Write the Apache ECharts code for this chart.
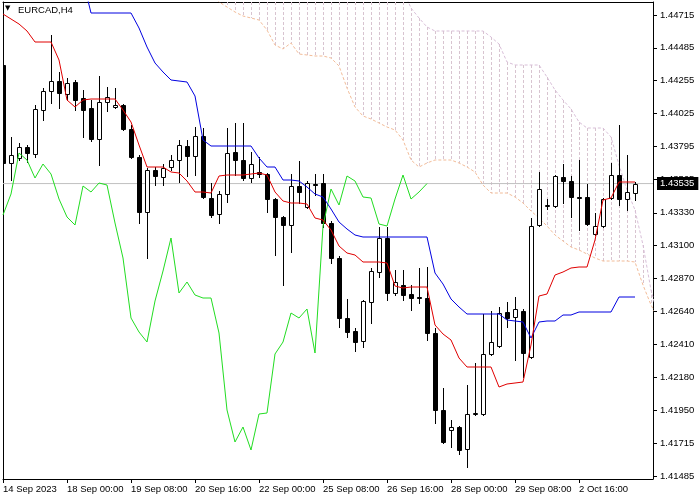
<!DOCTYPE html>
<html><head><meta charset="utf-8">
<script src="https://cdn.jsdelivr.net/npm/echarts@6/dist/echarts.min.js"></script>
<style>html,body{margin:0;padding:0;background:#fff}#c{width:700px;height:500px}</style>
</head><body><div id="c"></div>
<script>
// ---- data (EURCAD H4, bars indexed 0..79 from 14 Sep 2023 16:00) ----
const symbolTitle = 'EURCAD,H4';
const xLabelBars = [0, 8, 16, 24, 32, 40, 48, 56, 64, 72];
const xLabels = ['14 Sep 2023', '18 Sep 00:00', '19 Sep 08:00', '20 Sep 16:00', '22 Sep 00:00',
  '25 Sep 08:00', '26 Sep 16:00', '28 Sep 00:00', '29 Sep 08:00', '2 Oct 16:00'];
const yTicks = [1.44715, 1.44485, 1.44255, 1.44025, 1.43795, 1.43565, 1.43330, 1.43100,
  1.42870, 1.42640, 1.42410, 1.42180, 1.41950, 1.41715, 1.41485];
const lastPrice = 1.43535;

const opens = [1.44365,1.43679,1.43714,1.43791,1.43742,1.44050,1.44183,1.44253,1.44162,1.44246,
 1.44134,1.44064,1.43847,1.44106,1.44071,1.44085,1.43917,1.43721,1.43336,1.43630,
 1.43581,1.43651,1.43700,1.43798,1.43728,1.43868,1.43434,1.43322,1.43462,1.43756,
 1.43700,1.43574,1.43616,1.43602,1.43427,1.43301,1.43245,1.43518,1.43371,1.43532,
 1.43539,1.43259,1.43014,1.42594,1.42503,1.42433,1.42706,1.42916,1.43154,1.42769,
 1.42825,1.42762,1.42741,1.42734,1.42489,1.41950,1.41810,1.41831,1.41677,1.41922,
 1.41922,1.42342,1.42398,1.42636,1.42601,1.42643,1.42321,1.43245,1.43378,1.43378,
 1.43581,1.43553,1.43441,1.43441,1.43182,1.43238,1.43434,1.43595,1.43427,1.43469];
const highs = [1.44645,1.43861,1.43819,1.43805,1.44085,1.44204,1.44575,1.44316,1.44274,1.44260,
 1.44190,1.44120,1.44288,1.44211,1.44204,1.44092,1.43945,1.43735,1.43644,1.43651,
 1.43672,1.43735,1.43840,1.43840,1.43931,1.43924,1.43539,1.43483,1.43924,1.43959,
 1.43959,1.43756,1.43721,1.43609,1.43434,1.43308,1.43602,1.43693,1.43553,1.43602,
 1.43602,1.43273,1.43028,1.42727,1.42524,1.42720,1.42944,1.43231,1.43231,1.42930,
 1.42930,1.42825,1.42944,1.42951,1.42524,1.42104,1.41880,1.41838,1.42125,1.42279,
 1.42622,1.42643,1.42671,1.42706,1.42741,1.42657,1.43294,1.43616,1.43427,1.43595,
 1.43672,1.43588,1.43700,1.43532,1.43329,1.43434,1.43679,1.43945,1.43735,1.43546];
const lows = [1.43644,1.43560,1.43700,1.43686,1.43721,1.43980,1.44099,1.44064,1.44120,1.44050,
 1.43861,1.43833,1.43665,1.44043,1.44064,1.43910,1.43714,1.43259,1.43014,1.43525,
 1.43525,1.43630,1.43546,1.43588,1.43595,1.43434,1.43301,1.43259,1.43406,1.43595,
 1.43560,1.43546,1.43581,1.43336,1.43035,1.42825,1.43056,1.43399,1.43364,1.43455,
 1.43231,1.42979,1.42531,1.42461,1.42363,1.42391,1.42559,1.42881,1.42720,1.42755,
 1.42720,1.42650,1.42699,1.42440,1.41859,1.41719,1.41691,1.41642,1.41551,1.41915,
 1.41915,1.42335,1.42391,1.42531,1.42300,1.42181,1.42314,1.43238,1.43357,1.43371,
 1.43399,1.43301,1.43210,1.43245,1.43175,1.43231,1.43427,1.43385,1.43350,1.43420];
const closes = [1.43679,1.43735,1.43791,1.43749,1.44057,1.44183,1.44253,1.44169,1.44239,1.44120,
 1.44050,1.43847,1.44106,1.44141,1.44085,1.43917,1.43721,1.43336,1.43630,1.43588,
 1.43644,1.43700,1.43805,1.43728,1.43868,1.43441,1.43315,1.43462,1.43749,1.43700,
 1.43574,1.43672,1.43602,1.43427,1.43301,1.43245,1.43518,1.43476,1.43539,1.43525,
 1.43259,1.43014,1.42594,1.42496,1.42426,1.42713,1.42923,1.43154,1.42769,1.42846,
 1.42755,1.42734,1.42734,1.42489,1.41950,1.41726,1.41831,1.41670,1.41922,1.41929,
 1.42342,1.42426,1.42629,1.42594,1.42657,1.42349,1.43238,1.43497,1.43385,1.43588,
 1.43553,1.43441,1.43434,1.43252,1.43238,1.43427,1.43595,1.43427,1.43476,1.43535];

// Tenkan-sen (red), bars 0..79
const tenkan = [1.44722,1.44687,1.44652,1.44603,1.44526,1.44526,1.44526,1.44400,1.44120,1.44071,
 1.44120,1.44127,1.44127,1.44127,1.44127,1.44050,1.43966,1.43805,1.43651,1.43651,
 1.43651,1.43616,1.43609,1.43553,1.43476,1.43476,1.43469,1.43588,1.43595,1.43595,
 1.43595,1.43602,1.43609,1.43595,1.43476,1.43413,1.43399,1.43399,1.43392,1.43294,
 1.43280,1.43210,1.43098,1.43049,1.43035,1.42986,1.42986,1.42986,1.42979,1.42818,
 1.42804,1.42811,1.42811,1.42811,1.42545,1.42482,1.42440,1.42314,1.42251,1.42251,
 1.42251,1.42251,1.42111,1.42132,1.42139,1.42146,1.42405,1.42748,1.42762,1.42895,
 1.42916,1.42944,1.42951,1.42951,1.43140,1.43420,1.43434,1.43546,1.43546,1.43546];
// Kijun-sen (blue), bars 0..79 (early bars above the visible range)
const kijun = [null,null,null,null,null,null,null,null,null,null,
 1.44960,1.44729,1.44729,1.44729,1.44729,1.44729,1.44729,1.44624,1.44491,1.44379,
 1.44316,1.44260,1.44253,1.44246,1.44148,1.43840,1.43798,1.43798,1.43798,1.43798,
 1.43798,1.43798,1.43714,1.43651,1.43651,1.43560,1.43560,1.43553,1.43511,1.43462,
 1.43441,1.43357,1.43266,1.43217,1.43175,1.43161,1.43161,1.43161,1.43161,1.43161,
 1.43161,1.43161,1.43161,1.43161,1.42909,1.42832,1.42727,1.42671,1.42622,1.42622,
 1.42622,1.42622,1.42622,1.42580,1.42573,1.42566,1.42454,1.42566,1.42573,1.42573,
 1.42615,1.42615,1.42636,1.42636,1.42636,1.42636,1.42636,1.42741,1.42741,1.42741];
// Chikou span (lime), drawn at bars 0..53
const chikou = [1.43315,1.43462,1.43749,1.43700,1.43574,1.43672,1.43602,1.43427,1.43301,1.43245,
 1.43518,1.43476,1.43539,1.43525,1.43259,1.43014,1.42594,1.42496,1.42426,1.42713,
 1.42923,1.43154,1.42769,1.42846,1.42755,1.42734,1.42734,1.42489,1.41950,1.41726,
 1.41831,1.41670,1.41922,1.41929,1.42342,1.42426,1.42629,1.42594,1.42657,1.42349,
 1.43238,1.43497,1.43385,1.43588,1.43553,1.43441,1.43434,1.43252,1.43238,1.43427,
 1.43595,1.43427,1.43476,1.43535];
// Kumo (cloud) boundaries, bars 26..82
const cloudFirstBar = 26;
const senkouLower = [1.44876,1.44806,1.44771,1.44736,1.44708,1.44694,1.44680,1.44610,1.44505,1.44477,
 1.44519,1.44442,1.44435,1.44428,1.44428,1.44414,1.44358,1.44204,1.44071,1.44008,
 1.43987,1.43959,1.43931,1.43910,1.43840,1.43700,1.43651,1.43679,1.43700,1.43700,
 1.43700,1.43679,1.43651,1.43616,1.43525,1.43469,1.43469,1.43469,1.43441,1.43399,
 1.43343,1.43294,1.43238,1.43175,1.43133,1.43091,1.43070,1.43042,1.43014,1.42993,
 1.42993,1.42993,1.42993,1.42986,1.42825,1.42685,1.42580];
const senkouUpper = [null,null,null,null,null,null,null,null,null,null,
 null,null,null,null,null,null,null,null,null,null,
 null,null,null,null,1.44890,1.44764,1.44694,1.44631,1.44603,1.44603,
 1.44603,1.44603,1.44603,1.44603,1.44603,1.44561,1.44512,1.44386,1.44365,1.44365,
 1.44365,1.44365,1.44281,1.44190,1.44120,1.44057,1.43966,1.43924,1.43924,1.43924,
 1.43861,1.43665,1.43490,1.43350,1.43105,1.42790,1.42580];

// ---- chart ----
const FONT = 'Liberation Sans';
const Y_MIN = 1.41467, Y_MAX = 1.44806, X_MIN = 0, X_MAX = 81.25;
const chart = echarts.init(document.getElementById('c'), null, {renderer: 'canvas'});

const candleData = opens.map((o, i) => [i, o, closes[i], lows[i], highs[i]]);
const cloudData = senkouLower.map((lo, k) => [cloudFirstBar + k, senkouUpper[k] == null ? NaN : senkouUpper[k], lo]);

function renderCandle(params, api) {
  const i = api.value(0), o = api.value(1), c = api.value(2), l = api.value(3), h = api.value(4);
  const pO = api.coord([i, o]), pC = api.coord([i, c]), pH = api.coord([i, h]), pL = api.coord([i, l]);
  const x = Math.round(pO[0]);
  const top = Math.round(Math.min(pO[1], pC[1]));
  const bot = Math.round(Math.max(pO[1], pC[1]));
  const bull = c >= o;
  return {
    type: 'group',
    children: [
      {type: 'line', shape: {x1: x + 0.5, y1: Math.round(pH[1]), x2: x + 0.5, y2: Math.round(pL[1]) + 1},
       style: {stroke: '#000', lineWidth: 1}},
      {type: 'rect', shape: {x: x - 1.5, y: top + 0.5, width: 4, height: Math.max(bot - top, 0)},
       style: {fill: bull ? '#fff' : '#000', stroke: '#000', lineWidth: 1}}
    ]
  };
}

function renderHatch(params, api) {
  const cs = params.coordSys;
  const i = api.value(0), up = api.value(1), lo = api.value(2);
  const pLo = api.coord([i, lo]);
  let yTop = isNaN(up) ? cs.y : api.coord([i, up])[1];
  yTop = Math.max(yTop, cs.y);
  const yBot = Math.min(pLo[1], cs.y + cs.height);
  const x = Math.round(pLo[0]) + 0.5;
  if (yBot <= yTop || x > cs.x + cs.width) return null;
  return {type: 'line', shape: {x1: x, y1: yTop, x2: x, y2: yBot},
    style: {stroke: '#d8c4d0', lineWidth: 1, lineDash: [3, 2]}};
}

const lineBase = {type: 'line', showSymbol: false, symbol: 'none', clip: true, silent: true, animation: false};

chart.setOption({
  animation: false,
  backgroundColor: '#fff',
  title: [
    {text: '▼', left: 5, top: 5, padding: 0, textStyle: {fontSize: 7, fontFamily: 'DejaVu Sans', color: '#000', fontWeight: 'normal'}},
    {text: symbolTitle, left: 18, top: 5, padding: 0, textStyle: {fontSize: 9.5, fontFamily: FONT, color: '#000', fontWeight: 'normal'}}
  ],
  grid: {left: 3, top: 2, right: 47, bottom: 21, containLabel: false, outerBoundsMode: 'none', show: false},
  xAxis: [
    {type: 'value', min: X_MIN, max: X_MAX, position: 'bottom',
     axisLine: {show: true, onZero: false, lineStyle: {color: '#000', width: 1}},
     axisTick: {show: true, customValues: xLabelBars, length: 4, lineStyle: {color: '#000'}},
     axisLabel: {customValues: xLabelBars, formatter: v => xLabels[xLabelBars.indexOf(Math.round(v))] || '',
       align: 'left', margin: 5, color: '#000', fontSize: 9.5, fontFamily: FONT},
     splitLine: {show: false}},
    {type: 'value', min: X_MIN, max: X_MAX, position: 'top',
     axisLine: {show: true, onZero: false, lineStyle: {color: '#000', width: 1}},
     axisTick: {show: false}, axisLabel: {show: false}, splitLine: {show: false}}
  ],
  yAxis: [
    {type: 'value', min: Y_MIN, max: Y_MAX, position: 'right',
     axisLine: {show: true, onZero: false, lineStyle: {color: '#000', width: 1}},
     axisTick: {show: true, customValues: yTicks, length: 4, lineStyle: {color: '#000'}},
     axisLabel: {customValues: yTicks, formatter: v => v.toFixed(5), margin: 7, color: '#000', fontSize: 9.5, fontFamily: FONT},
     splitLine: {show: false}},
    {type: 'value', min: Y_MIN, max: Y_MAX, position: 'right',
     axisLine: {show: false}, axisTick: {show: false}, splitLine: {show: false},
     axisLabel: {customValues: [lastPrice], formatter: v => v.toFixed(5), margin: 4, color: '#fff',
       backgroundColor: '#000', padding: [2, 4, 1, 3], fontSize: 9.5, fontFamily: FONT}},
    {type: 'value', min: Y_MIN, max: Y_MAX, position: 'left',
     axisLine: {show: true, onZero: false, lineStyle: {color: '#000', width: 1}},
     axisTick: {show: false}, axisLabel: {show: false}, splitLine: {show: false}}
  ],
  series: [
    {type: 'custom', name: 'kumo', renderItem: renderHatch, data: cloudData, clip: true, z: 1, silent: true,
     encode: {x: 0, y: [1, 2]}},
    Object.assign({}, lineBase, {name: 'Bid line', z: 1,
     data: [[X_MIN, lastPrice], [X_MAX, lastPrice]],
     lineStyle: {color: '#c0c0c0', width: 1}}),
    Object.assign({}, lineBase, {name: 'Senkou Span A', z: 2,
     data: senkouLower.map((v, k) => [cloudFirstBar + k, v]),
     lineStyle: {color: '#f2bc98', width: 1, type: [3, 2]}}),
    Object.assign({}, lineBase, {name: 'Senkou Span B', z: 2,
     data: senkouUpper.map((v, k) => [cloudFirstBar + k, v]),
     lineStyle: {color: '#d8bfd8', width: 1, type: [3, 2]}}),
    {type: 'custom', name: 'EURCAD', renderItem: renderCandle, data: candleData, clip: true, z: 3, silent: true,
     encode: {x: 0, y: [1, 2, 3, 4]}},
    Object.assign({}, lineBase, {name: 'Chikou', z: 4, data: chikou.map((v, i) => [i, v]),
     lineStyle: {color: '#22dd22', width: 1}}),
    Object.assign({}, lineBase, {name: 'Kijun', z: 4, data: kijun.map((v, i) => [i, v]),
     lineStyle: {color: '#0000e0', width: 1}}),
    Object.assign({}, lineBase, {name: 'Tenkan', z: 4, data: tenkan.map((v, i) => [i, v]),
     lineStyle: {color: '#e00000', width: 1}})
  ]
});
</script></body></html>
